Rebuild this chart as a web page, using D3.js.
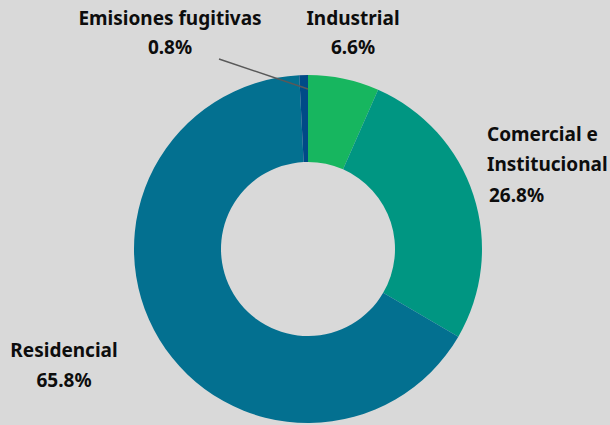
<!DOCTYPE html>
<html><head><meta charset="utf-8">
<script src="https://cdn.jsdelivr.net/npm/d3@7"></script>
<style>
html,body{margin:0;padding:0;background:#d9d9d9;}
svg{display:block;}
text{font-family:"Noto Sans", Lato, sans-serif;font-weight:bold;fill:#0d0d0d;font-size:19px;}
</style></head>
<body>
<svg id="chart" width="610" height="425"></svg>
<script>
const categories = ["Industrial", "Comercial e Institucional", "Residencial", "Emisiones fugitivas"];
const values = [6.6, 26.8, 65.8, 0.8];
const colors = ["#17b65f", "#009682", "#037090", "#004a87"];
const valueLabels = ["6.6%", "26.8%", "65.8%", "0.8%"];

const W = 610, H = 425;
const cx = 308, cy = 249, rOuter = 174, rInner = 87;
const svg = d3.select("#chart");
svg.append("rect").attr("width", W).attr("height", H).attr("fill", "#d9d9d9");

const data = categories.map((c, i) => ({name: c, value: values[i], color: colors[i], label: valueLabels[i]}));
const pie = d3.pie().sort(null).value(d => d.value);
const arc = d3.arc().innerRadius(rInner).outerRadius(rOuter);
const g = svg.append("g").attr("transform", `translate(${cx},${cy})`);
const arcs = pie(data);
g.selectAll("path").data(arcs).enter().append("path")
  .attr("d", arc).attr("fill", d => d.data.color);

// leader line for Emisiones fugitivas
const fug = arcs[3];
const rr = rOuter - 14;
svg.append("line")
  .attr("x1", 219).attr("y1", 59)
  .attr("x2", cx + Math.sin(fug.endAngle) * rr).attr("y2", cy - Math.cos(fug.endAngle) * rr)
  .attr("stroke", "#595959").attr("stroke-width", 1.5);

// labels
const labelSpecs = [
  {lines: ["Industrial", "6.6%"], x: 353, y: [25, 54], anchor: "middle"},
  {lines: ["Comercial e", "Institucional", "26.8%"], x: 487, y: [141, 171, 202], anchor: "start", lastX: 489},
  {lines: ["Residencial", "65.8%"], x: 64, y: [357, 387], anchor: "middle"},
  {lines: ["Emisiones fugitivas", "0.8%"], x: 170, y: [25, 54], anchor: "middle"}
];
labelSpecs.forEach((s, i) => {
  const lines = s.lines.slice(0, -1).concat([data[i].label]);
  lines.forEach((t, j) => {
    svg.append("text")
      .attr("x", (j === lines.length - 1 && s.lastX) ? s.lastX : s.x)
      .attr("y", s.y[j])
      .attr("text-anchor", s.anchor)
      .text(t);
  });
});
</script>
</body></html>
